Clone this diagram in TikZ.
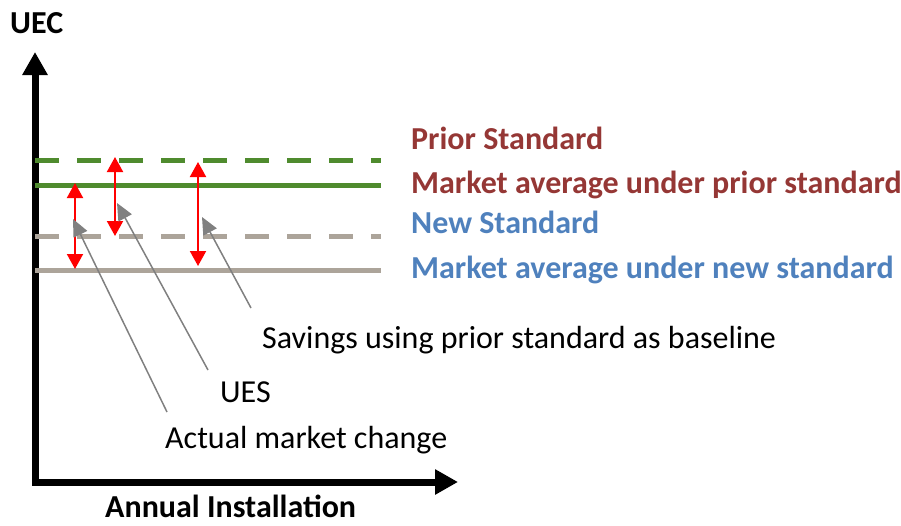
\documentclass[tikz,border=0pt]{standalone}
\usepackage{fontspec}
\setmainfont{Carlito}
\usetikzlibrary{arrows.meta}
\definecolor{stdgreen}{RGB}{79,139,46}
\definecolor{stdtan}{RGB}{172,164,154}
\definecolor{priorred}{RGB}{149,55,53}
\definecolor{newblue}{RGB}{79,129,189}
\definecolor{pointer}{RGB}{128,128,128}
\begin{document}
\begin{tikzpicture}[x=1pt,y=-1pt,
  axis/.style={line width=7pt,line join=miter,
    {Triangle[width=24pt,length=23pt]}-{Triangle[width=24pt,length=23pt]}},
  level/.style={line width=5pt},
  dashlevel/.style={line width=5pt,dash pattern=on 24pt off 18pt},
  saving/.style={red,line width=2pt,
    {Triangle[width=16pt,length=15pt]}-{Triangle[width=16pt,length=15pt]}},
  callout/.style={pointer,line width=1.5pt,-{Triangle[width=15pt,length=17pt]}},
  label/.style={inner sep=0pt,anchor=base west,font=\fontsize{32}{38}\selectfont},
  boldlabel/.style={label,font=\fontsize{32}{38}\selectfont\bfseries}]
\useasboundingbox (0,0) rectangle (901,525);

% axes
\coordinate (ytop) at (35,52);
\coordinate (origin) at (35,482);
\coordinate (xend) at (458,482);
\draw[axis] (ytop) -- (origin) -- (xend);
\node[boldlabel] (uec) at (10,33) {UEC};
\node[boldlabel] (annual) at (105,517) {Annual Installation};

% UEC levels
\coordinate (ps0) at (35,160);  \coordinate (ps1) at (381,160);
\coordinate (mp0) at (35,185);  \coordinate (mp1) at (381,185);
\coordinate (ns0) at (35,236);  \coordinate (ns1) at (381,236);
\coordinate (mn0) at (35,270);  \coordinate (mn1) at (381,270);
\draw[dashlevel,stdgreen] (ps0) -- (ps1);
\draw[level,stdgreen] (mp0) -- (mp1);
\draw[dashlevel,stdtan] (ns0) -- (ns1);
\draw[level,stdtan] (mn0) -- (mn1);

\node[boldlabel,text=priorred] (prior) at (411,149) {Prior Standard};
\node[boldlabel,text=priorred] (mktprior) at (411,193) {Market average under prior standard};
\node[boldlabel,text=newblue] (new) at (411,233) {New Standard};
\node[boldlabel,text=newblue] (mktnew) at (411,278) {Market average under new standard};

% savings spans
\coordinate (a1t) at (75,183);  \coordinate (a1b) at (75,269);
\coordinate (a2t) at (115,157); \coordinate (a2b) at (115,236);
\coordinate (a3t) at (198,162); \coordinate (a3b) at (198,266);
\draw[saving] (a1t) -- (a1b);
\draw[saving] (a2t) -- (a2b);
\draw[saving] (a3t) -- (a3b);

% callouts
\node[label] (savings) at (262,348) {Savings using prior standard as baseline};
\node[label] (ues) at (220,402) {UES};
\node[label] (actual) at (165,448) {Actual market change};

\coordinate (c1s) at (167,412); \coordinate (c1e) at (73,219);
\coordinate (c2s) at (208,370); \coordinate (c2e) at (117,203);
\coordinate (c3s) at (251,308); \coordinate (c3e) at (202,217);
\draw[callout] (c1s) -- (c1e);
\draw[callout] (c2s) -- (c2e);
\draw[callout] (c3s) -- (c3e);
\end{tikzpicture}
\end{document}
